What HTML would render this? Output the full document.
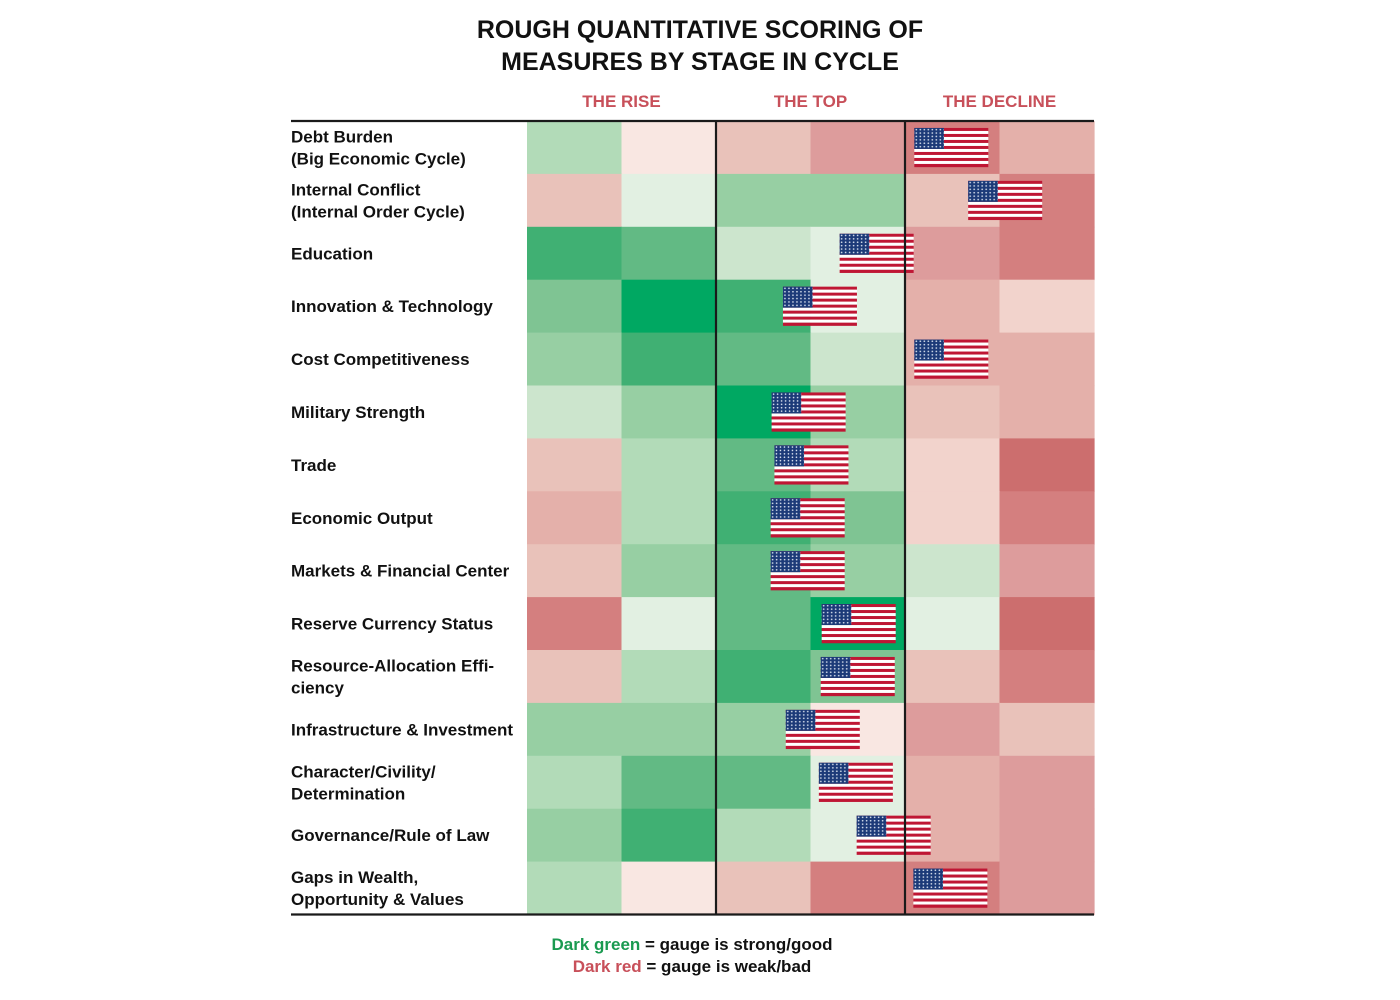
<!DOCTYPE html>
<html><head><meta charset="utf-8">
<style>
html,body{margin:0;padding:0;background:#fff;width:1400px;height:1000px;overflow:hidden}
svg text{font-family:"Liberation Sans",sans-serif;font-weight:bold}
</style></head>
<body>
<svg id="chart" width="1400" height="1000" viewBox="0 0 1400 1000" xmlns="http://www.w3.org/2000/svg">
<defs>
<pattern id="stars" width="4" height="3.4" patternUnits="userSpaceOnUse">
<rect width="4" height="3.4" fill="#1c3a78"/><circle cx="2" cy="1.7" r="0.8" fill="#dfe6f2"/>
</pattern>
</defs>
<text x="700" y="38" text-anchor="middle" font-size="25" fill="#111">ROUGH QUANTITATIVE SCORING OF</text>
<text x="700" y="70" text-anchor="middle" font-size="25" fill="#111">MEASURES BY STAGE IN CYCLE</text>
<g id="cells"></g>
<g id="labels"></g>
<g id="flags"></g>
<g id="frame"></g>
<text x="692" y="950" text-anchor="middle" font-size="17" fill="#111"><tspan fill="#1a9a50">Dark green</tspan> = gauge is strong/good</text>
<text x="692" y="972" text-anchor="middle" font-size="17" fill="#111"><tspan fill="#c8505a">Dark red</tspan> = gauge is weak/bad</text>
</svg>
<script>
const measures = [["Debt Burden","(Big Economic Cycle)"],["Internal Conflict","(Internal Order Cycle)"],["Education"],["Innovation & Technology"],["Cost Competitiveness"],["Military Strength"],["Trade"],["Economic Output"],["Markets & Financial Center"],["Reserve Currency Status"],["Resource-Allocation Effi-","ciency"],["Infrastructure & Investment"],["Character/Civility/","Determination"],["Governance/Rule of Law"],["Gaps in Wealth,","Opportunity & Values"]];
const stages = ["THE RISE","THE TOP","THE DECLINE"];
const scores = [
[3,-1,-3,-5,-6,-4],
[-3,1,4,4,-3,-6],
[7,6,2,1,-5,-6],
[5,8,7,1,-4,-2],
[4,7,6,2,-4,-4],
[2,4,8,4,-3,-4],
[-3,3,6,3,-2,-7],
[-4,3,7,5,-2,-6],
[-3,4,6,4,2,-5],
[-6,1,6,8,1,-7],
[-3,3,7,5,-3,-6],
[4,4,4,-1,-5,-3],
[3,6,6,1,-4,-5],
[4,7,3,1,-4,-5],
[3,-1,-3,-6,-6,-5]];
const usPosition = [4.49,5.06,3.70,3.10,4.49,2.98,3.01,2.97,2.97,3.51,3.50,3.13,3.48,3.88,4.48];

const NS="http://www.w3.org/2000/svg";
const X0=527, CW=94.5, Y0=121, RH=52.9;
const green=["#e2f0e2","#cce5cd","#b2dbb8","#97cfa3","#7fc493","#62ba84","#40b073","#00a862"];
const red=["#f9e7e2","#f2d3cc","#e9c2ba","#e4b0aa","#dd9c9c","#d47f7f","#cc6e6e"];
function color(v){return v>0?green[v-1]:red[-v-1];}
function xs(c){return X0+c*CW;}
function ys(r){return Y0+r*RH;}
function mk(tag,attrs,parent){const e=document.createElementNS(NS,tag);for(const k in attrs)e.setAttribute(k,attrs[k]);parent.appendChild(e);return e;}

const cells=document.getElementById('cells');
scores.forEach((row,r)=>row.forEach((v,c)=>{
  const el=mk('rect',{x:xs(c),y:ys(r),width:CW+0.6,height:RH+0.6,fill:color(v)},cells);
  
  
}));

const labels=document.getElementById('labels');
measures.forEach((m,r)=>{
  const t=mk('text',{x:291,'font-size':17,fill:'#111'},labels);
  
  
  const cy=ys(r)+RH/2;
  m.forEach((line,i)=>{
    const ts=mk('tspan',{x:291,y:(m.length===1?cy+6:cy-5+i*22)},t);
    ts.textContent=line;
  });
});
stages.forEach((s,i)=>{
  const t=mk('text',{x:xs(i*2+1),y:107,'text-anchor':'middle','font-size':17,fill:'#c8505a'},labels);
  
  
  t.textContent=s;
});

const flags=document.getElementById('flags');
usPosition.forEach((p,r)=>{
  const fw=74,fh=39,fx=xs(p)-fw/2,fy=ys(r)+RH/2-fh/2;
  const g=mk('g',{transform:'translate('+fx+','+fy+')'},flags);
  
  
  const sh=fh/13;
  for(let i=0;i<13;i++) mk('rect',{x:0,y:i*sh,width:fw,height:sh+0.2,fill:i%2?'#ffffff':'#bf1634'},g);
  mk('rect',{x:0,y:0,width:fw*0.4,height:sh*7,fill:'url(#stars)'},g);
});

const frame=document.getElementById('frame');
const lines=[[291,Y0,1094,Y0],[291,ys(15),1094,ys(15)],[716,Y0,716,ys(15)],[905,Y0,905,ys(15)]];
lines.forEach((l,i)=>{
  const e=mk('line',{x1:l[0],y1:l[1],x2:l[2],y2:l[3],stroke:'#1a1a1a','stroke-width':2.2},frame);
  
  
});
</script>
</body></html>
